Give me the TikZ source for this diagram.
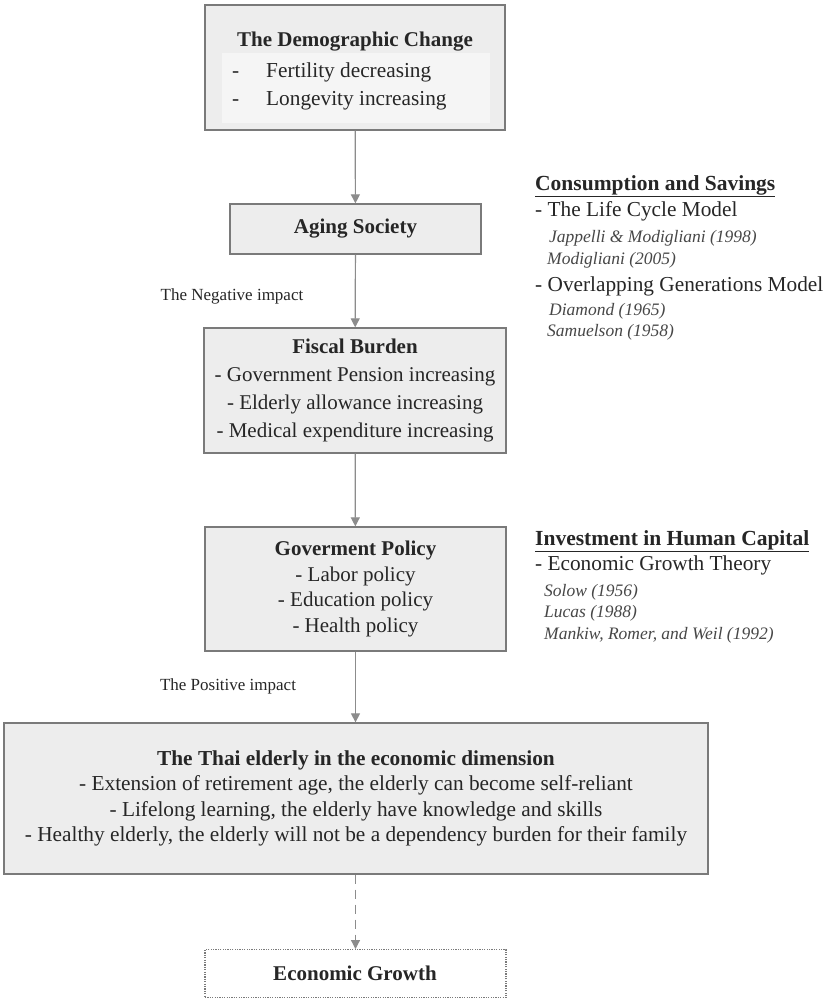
\documentclass[tikz,border=0pt]{standalone}
\usepackage{fontspec}
\setmainfont{Liberation Serif}
\usetikzlibrary{arrows.meta}
\definecolor{boxfill}{HTML}{EDEDED}
\definecolor{panelfill}{HTML}{F5F5F5}
\definecolor{boxline}{HTML}{7A7A7A}
\definecolor{arrowgrey}{HTML}{8C8C8C}
\definecolor{ink}{HTML}{262626}
\begin{document}
\begin{tikzpicture}[x=1pt,y=-1pt,
  every node/.style={text=ink, inner sep=0pt},
  box/.style={draw=boxline, line width=1.3pt, fill=boxfill, align=center,
    font=\fontsize{21}{27}\selectfont},
  flow/.style={draw=arrowgrey, line width=1.2pt,
    -{Triangle[width=9pt,length=9pt]}},
  dashflow/.style={flow, dash pattern=on 9pt off 6pt},
  impact/.style={font=\fontsize{17}{20}\selectfont},
  headtxt/.style={anchor=mid west, font=\fontsize{21.5}{25}\selectfont\bfseries},
  itemtxt/.style={anchor=mid west, font=\fontsize{21.3}{25}\selectfont},
  reftxt/.style={anchor=mid west, font=\fontsize{17.5}{21}\selectfont\itshape, text=ink!85}]
\useasboundingbox (0,0) rectangle (828,998);
\fill[white] (0,0) rectangle (828,998);

% --- The demographic change
\node[box, minimum width=300pt, minimum height=125pt] (demo) at (355,67.5) {};
\node[font=\fontsize{21}{25}\selectfont\bfseries] (demotitle) at (355,42) {The Demographic Change};
\node[fill=panelfill, minimum width=268pt, minimum height=70pt] (panel) at (356,88) {};
\node[itemtxt] (d1) at (232,75) {-};
\node[itemtxt] (t1) at (266,75) {Fertility decreasing};
\node[itemtxt] (d2) at (232,103) {-};
\node[itemtxt] (t2) at (266,103) {Longevity increasing};

% --- main chain
\node[box, minimum width=251pt, minimum height=50pt] (aging) at (355.5,229) {\bfseries Aging Society};
\node[box, minimum width=302pt, minimum height=125pt, font=\fontsize{21}{28}\selectfont] (fiscal) at (355,390.5)
  {\textbf{Fiscal Burden}\\- Government Pension increasing\\- Elderly allowance increasing\\- Medical expenditure increasing};
\node[box, minimum width=301pt, minimum height=124pt, font=\fontsize{21}{25.7}\selectfont] (policy) at (355.5,589)
  {\textbf{Goverment Policy}\\- Labor policy\\- Education policy\\- Health policy};
\node[box, minimum width=704pt, minimum height=151pt, font=\fontsize{21.3}{25.3}\selectfont] (thai) at (356,798.5)
  {\textbf{The Thai elderly in the economic dimension}\\
   - Extension of retirement age, the elderly can become self-reliant\\
   - Lifelong learning, the elderly have knowledge and skills\\
   - Healthy elderly, the elderly will not be a dependency burden for their family};
\node[draw=boxline, line width=1.2pt, dash pattern=on 1.2pt off 1.2pt, fill=white,
  minimum width=301pt, minimum height=48pt, anchor=north] (growth) at (355.5,949) {};
\node[font=\fontsize{21}{25}\selectfont\bfseries] (growthtxt) at (355,973) {Economic Growth};

\draw[flow] (demo) -- (aging);
\draw[flow] (aging) -- (fiscal);
\draw[flow] (fiscal) -- (policy);
\draw[flow] (policy.south) -- (policy.south |- thai.north);
\draw[dashflow] (thai.south -| growth.north) -- (growth);

\node[impact] (neg) at (232,296) {The Negative impact};
\node[impact] (pos) at (228,686) {The Positive impact};

% --- theory notes, consumption side
\node[headtxt] (cs) at (535,188) {\underline{Consumption and Savings}};
\node[itemtxt] (lc) at (535,214) {- The Life Cycle Model};
\node[reftxt] (r1) at (549,240) {Jappelli \& Modigliani (1998)};
\node[reftxt] (r2) at (547,262) {Modigliani (2005)};
\node[itemtxt] (og) at (535,289) {- Overlapping Generations Model};
\node[reftxt] (r3) at (549,313) {Diamond (1965)};
\node[reftxt] (r4) at (547,334) {Samuelson (1958)};

% --- theory notes, human capital side
\node[headtxt] (hc) at (535,543) {\underline{Investment in Human Capital}};
\node[itemtxt] (eg) at (535,568) {- Economic Growth Theory};
\node[reftxt] (r5) at (544,594) {Solow (1956)};
\node[reftxt] (r6) at (544,615) {Lucas (1988)};
\node[reftxt] (r7) at (544,637) {Mankiw, Romer, and Weil (1992)};
\end{tikzpicture}
\end{document}
